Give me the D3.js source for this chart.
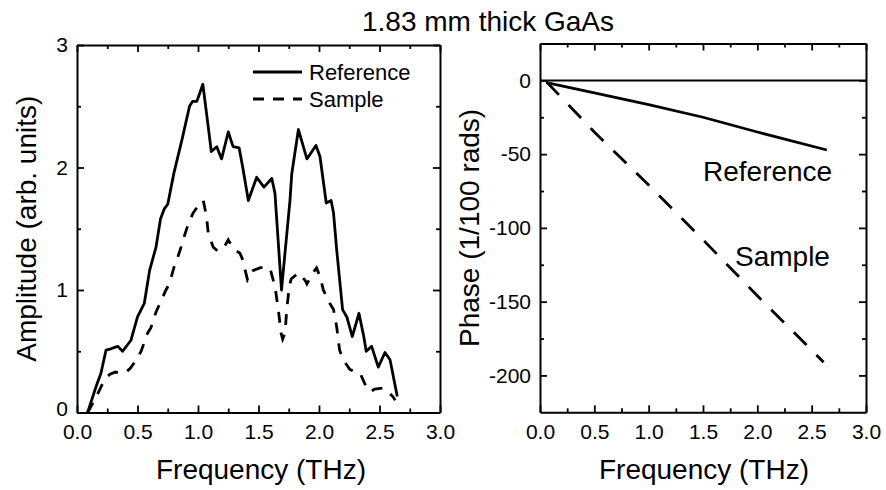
<!DOCTYPE html>
<html>
<head>
<meta charset="utf-8">
<script src="https://cdn.jsdelivr.net/npm/d3@7"></script>
<style>
  body { margin: 0; background: #fff; }
  svg { display: block; font-family: "Liberation Sans", Arial, sans-serif; }
</style>
</head>
<body>
<div id="canvas"></div>
<script>
// left panel: amplitude spectra
const refAmpFreq = [0.088, 0.157, 0.198, 0.24, 0.28, 0.336, 0.377, 0.446, 0.50, 0.556, 0.60, 0.653, 0.69, 0.72, 0.75, 0.80, 0.873, 0.93, 0.956, 0.99, 1.005, 1.04, 1.085, 1.11, 1.155, 1.195, 1.25, 1.29, 1.34, 1.37, 1.416, 1.485, 1.545, 1.61, 1.636, 1.69, 1.76, 1.775, 1.83, 1.90, 1.975, 2.008, 2.06, 2.10, 2.12, 2.146, 2.195, 2.23, 2.275, 2.33, 2.37, 2.39, 2.435, 2.49, 2.545, 2.587, 2.647];
const refAmp = [0, 0.21, 0.32, 0.51, 0.52, 0.54, 0.50, 0.59, 0.78, 0.89, 1.16, 1.35, 1.58, 1.66, 1.70, 1.95, 2.25, 2.50, 2.54, 2.54, 2.58, 2.68, 2.33, 2.13, 2.17, 2.07, 2.29, 2.17, 2.16, 2.0, 1.73, 1.92, 1.84, 1.91, 1.79, 1.0, 1.73, 1.95, 2.31, 2.07, 2.18, 2.09, 1.71, 1.73, 1.63, 1.33, 0.84, 0.78, 0.62, 0.81, 0.62, 0.50, 0.54, 0.37, 0.49, 0.43, 0.13];

const sampleAmpFreq = [0.088, 0.13, 0.185, 0.225, 0.27, 0.317, 0.364, 0.40, 0.44, 0.49, 0.53, 0.584, 0.61, 0.653, 0.735, 0.763, 0.80, 0.82, 0.86, 0.887, 0.92, 0.96, 1.017, 1.044, 1.07, 1.085, 1.126, 1.16, 1.21, 1.25, 1.29, 1.347, 1.37, 1.39, 1.41, 1.435, 1.457, 1.51, 1.57, 1.60, 1.636, 1.664, 1.686, 1.70, 1.72, 1.733, 1.755, 1.77, 1.83, 1.885, 1.90, 1.95, 1.98, 2.008, 2.036, 2.09, 2.12, 2.146, 2.17, 2.20, 2.256, 2.34, 2.39, 2.42, 2.46, 2.53, 2.57, 2.61, 2.63];
const sampleAmp = [0, 0.075, 0.18, 0.265, 0.31, 0.33, 0.32, 0.325, 0.36, 0.43, 0.50, 0.65, 0.69, 0.82, 1.0, 1.05, 1.18, 1.23, 1.35, 1.44, 1.54, 1.63, 1.71, 1.73, 1.60, 1.46, 1.35, 1.32, 1.34, 1.41, 1.34, 1.30, 1.245, 1.16, 1.08, 1.11, 1.16, 1.18, 1.19, 1.16, 1.03, 0.84, 0.65, 0.60, 0.65, 0.84, 1.03, 1.09, 1.14, 1.08, 1.05, 1.14, 1.18, 1.11, 1.0, 0.89, 0.84, 0.70, 0.51, 0.43, 0.35, 0.32, 0.21, 0.17, 0.19, 0.20, 0.17, 0.13, 0.10];

// right panel: phase (1/100 rads)
const refPhaseFreq = [0.06, 0.5, 1.0, 1.5, 2.0, 2.64];
const refPhase = [-1.5, -8.5, -16.5, -25, -35, -47.2];
const samplePhaseFreq = [0.06, 0.5, 1.0, 1.5, 2.0, 2.61];
const samplePhase = [-1, -35, -71, -108, -146, -191];

const freqTicks = [0, 0.5, 1.0, 1.5, 2.0, 2.5, 3.0];
const freqMinor = [0.25, 0.75, 1.25, 1.75, 2.25, 2.75];
const ampTicks = [0, 1, 2, 3];
const ampMinor = [0.5, 1.5, 2.5];
const phaseTicks = [-200, -150, -100, -50, 0];
const phaseMinor = [-175, -125, -75, -25];

const width = 886, height = 490;
const svg = d3.select("#canvas").append("svg")
  .attr("width", width)
  .attr("height", height);

const bigFont = 28, tickFont = 21, lw = 2.8;

function frame(x, y, xt, xm, yt, ym) {
  const g = svg.append("g");
  const [x0, x1] = x.range();
  const [y0, y1] = y.range();
  const axes = [
    [d3.axisBottom(x), y0, "x", true],
    [d3.axisTop(x), y1, "x", false],
    [d3.axisLeft(y), x0, "y", true],
    [d3.axisRight(y), x1, "y", false]
  ];
  axes.forEach(([ax, pos, dir, labels]) => {
    const minor = dir === "x" ? xm : ym;
    const major = dir === "x" ? xt : yt;
    const tr = dir === "x" ? `translate(0,${pos})` : `translate(${pos},0)`;
    g.append("g").attr("transform", tr)
      .call(ax.tickValues(minor).tickSize(-4).tickSizeOuter(0).tickFormat(""))
      .call(s => s.select(".domain").remove());
    const fmt = dir === "x" ? d3.format(".1f") : (d => String(d));
    const gm = g.append("g").attr("transform", tr)
      .call(ax.tickValues(major).tickSize(-7).tickSizeOuter(0)
        .tickPadding(dir === "x" ? 12 : 9)
        .tickFormat(labels ? fmt : ""));
    gm.select(".domain").attr("stroke-width", 2);
    gm.selectAll("text").attr("font-size", tickFont).attr("fill", "#000")
      .attr("font-family", "Liberation Sans, Arial, sans-serif");
  });
  g.selectAll(".tick line").attr("stroke-width", 1.8);
  return g;
}

// left panel
const xL = d3.scaleLinear().domain([0, 3]).range([77, 440]);
const yL = d3.scaleLinear().domain([0, 3]).range([412.5, 45]);
const gL = frame(xL, yL, freqTicks, freqMinor, ampTicks, ampMinor);
// the "0" at the corner sits a little high, clear of "0.0"
gL.selectAll(".tick text").filter(function(d) {
  return d === 0 && this.getAttribute("x") !== null && +this.getAttribute("x") < 0;
}).attr("dy", "0.12em");

const lineL = d3.line().x(d => xL(d[0])).y(d => yL(d[1]));
svg.append("path")
  .datum(refAmpFreq.map((f, i) => [f, refAmp[i]]))
  .attr("d", lineL)
  .attr("fill", "none").attr("stroke", "#000").attr("stroke-width", lw)
  .attr("stroke-linejoin", "round");
svg.append("path")
  .datum(sampleAmpFreq.map((f, i) => [f, sampleAmp[i]]))
  .attr("d", lineL)
  .attr("fill", "none").attr("stroke", "#000").attr("stroke-width", lw)
  .attr("stroke-dasharray", "11,10");

// legend
const legend = svg.append("g");
[["Reference", null, 72], ["Sample", "11,9", 99]].forEach(([name, dash, y]) => {
  legend.append("line")
    .attr("x1", 253).attr("x2", 302).attr("y1", y).attr("y2", y)
    .attr("stroke", "#000").attr("stroke-width", lw)
    .attr("stroke-dasharray", dash);
  legend.append("text")
    .attr("x", 309).attr("y", y + 8)
    .attr("font-size", 22)
    .text(name);
});

// right panel
const xR = d3.scaleLinear().domain([0, 3]).range([540, 866]);
const yR = d3.scaleLinear().domain([-225, 25]).range([412.3, 43.5]);
frame(xR, yR, freqTicks, freqMinor, phaseTicks, phaseMinor);

svg.append("line")
  .attr("x1", xR(0)).attr("x2", xR(3))
  .attr("y1", yR(0)).attr("y2", yR(0))
  .attr("stroke", "#000").attr("stroke-width", 2);

const lineR = d3.line().x(d => xR(d[0])).y(d => yR(d[1]));
svg.append("path")
  .datum(refPhaseFreq.map((f, i) => [f, refPhase[i]]))
  .attr("d", lineR)
  .attr("fill", "none").attr("stroke", "#000").attr("stroke-width", lw);
svg.append("path")
  .datum(samplePhaseFreq.map((f, i) => [f, samplePhase[i]]))
  .attr("d", lineR)
  .attr("fill", "none").attr("stroke", "#000").attr("stroke-width", lw)
  .attr("stroke-dasharray", "18,14");

svg.append("text").attr("x", 703).attr("y", 181)
  .attr("font-size", bigFont).text("Reference");
svg.append("text").attr("x", 735).attr("y", 266)
  .attr("font-size", bigFont).text("Sample");

// titles
svg.append("text").attr("x", 488).attr("y", 31)
  .attr("text-anchor", "middle").attr("font-size", bigFont)
  .text("1.83 mm thick GaAs");
svg.append("text").attr("x", 261).attr("y", 479)
  .attr("text-anchor", "middle").attr("font-size", bigFont)
  .text("Frequency (THz)");
svg.append("text").attr("x", 704).attr("y", 479)
  .attr("text-anchor", "middle").attr("font-size", bigFont)
  .text("Frequency (THz)");
svg.append("text")
  .attr("transform", `translate(36,${(45 + 412.5) / 2}) rotate(-90)`)
  .attr("text-anchor", "middle").attr("font-size", bigFont)
  .text("Amplitude (arb. units)");
svg.append("text")
  .attr("transform", `translate(479,${(43.5 + 412.3) / 2}) rotate(-90)`)
  .attr("text-anchor", "middle").attr("font-size", bigFont)
  .text("Phase (1/100 rads)");
</script>
</body>
</html>
